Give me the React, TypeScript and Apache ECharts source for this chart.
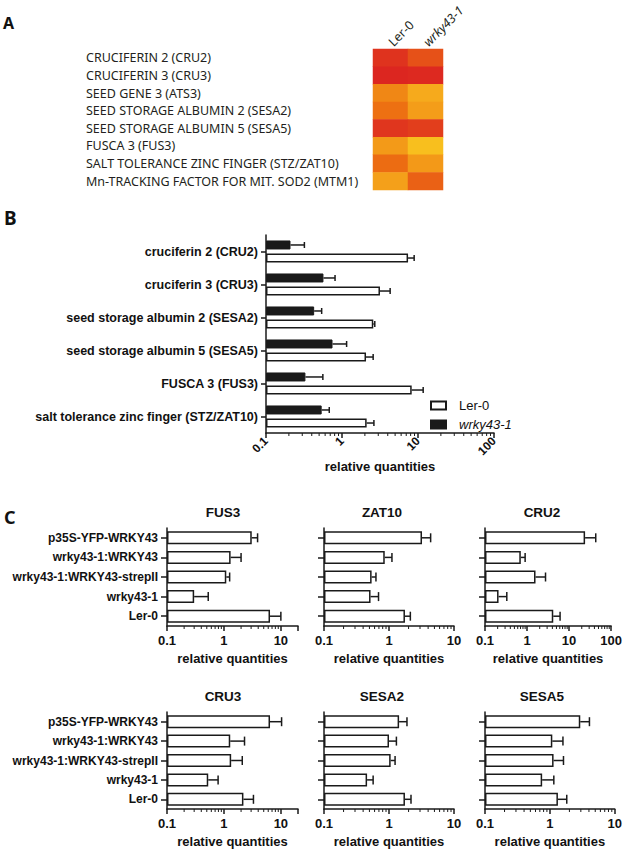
import React, { useEffect, useRef } from 'react';
import * as echarts from 'echarts';

// ---------- Panel A data ----------
const heatGenes = [
  'CRUCIFERIN 2 (CRU2)',
  'CRUCIFERIN 3 (CRU3)',
  'SEED GENE 3 (ATS3)',
  'SEED STORAGE ALBUMIN 2 (SESA2)',
  'SEED STORAGE ALBUMIN 5 (SESA5)',
  'FUSCA 3 (FUS3)',
  'SALT TOLERANCE ZINC FINGER (STZ/ZAT10)',
  'Mn-TRACKING FACTOR FOR MIT. SOD2 (MTM1)',
];
const heatCols = ['Ler-0', 'wrky43-1'];
const heatLer = [0.92, 1.0, 0.45, 0.58, 0.9, 0.32, 0.6, 0.28];
const heatWrky = [0.74, 0.98, 0.2, 0.3, 0.85, 0.06, 0.33, 0.66];

// ---------- Panel B data ----------
const bGenes = [
  'cruciferin 2 (CRU2)',
  'cruciferin 3 (CRU3)',
  'seed storage albumin 2 (SESA2)',
  'seed storage albumin 5 (SESA5)',
  'FUSCA 3 (FUS3)',
  'salt tolerance zinc finger (STZ/ZAT10)',
];
const bLer = [7.4, 3.16, 2.58, 2.07, 8.26, 2.11];
const bLerErr = [8.9, 4.3, 2.7, 2.57, 11.7, 2.63];
const bWrky = [0.21, 0.57, 0.43, 0.75, 0.33, 0.54];
const bWrkyErr = [0.32, 0.81, 0.54, 1.15, 0.56, 0.68];

// ---------- Panel C data ----------
const genotypes = ['p35S-YFP-WRKY43', 'wrky43-1:WRKY43', 'wrky43-1:WRKY43-strepII', 'wrky43-1', 'Ler-0'];
const cTitles = ['FUS3', 'ZAT10', 'CRU2', 'CRU3', 'SESA2', 'SESA5'];
const fus3 = [3.08, 1.31, 1.1, 0.3, 6.45];
const fus3Err = [3.9, 2.0, 1.26, 0.53, 10];
const zat10 = [3.22, 0.86, 0.54, 0.52, 1.76];
const zat10Err = [4.37, 1.11, 0.63, 0.69, 2.13];
const cru2 = [24, 0.71, 1.59, 0.21, 4.2];
const cru2Err = [43, 0.9, 2.75, 0.33, 6.1];
const cru3 = [6.45, 1.29, 1.34, 0.53, 2.2];
const cru3Err = [10.3, 2.3, 2.1, 0.79, 3.3];
const sesa2 = [1.43, 1.0, 1.06, 0.46, 1.76];
const sesa2Err = [1.89, 1.3, 1.24, 0.57, 2.18];
const sesa5 = [2.94, 1.09, 1.14, 0.76, 1.33];
const sesa5Err = [4.07, 1.59, 1.62, 1.15, 1.82];
const cMax = [20, 10, 100, 20, 10, 10];

const minorTickValues = [
  0.2, 0.3, 0.4, 0.5, 0.6, 0.7, 0.8, 0.9,
  2, 3, 4, 5, 6, 7, 8, 9,
  20, 30, 40, 50, 60, 70, 80, 90,
];

const INK = '#1a1a1a';
const ARIAL = '"Liberation Sans", Arial, sans-serif';
const MYRIAD = '"Noto Sans", sans-serif';

function logLabel(v: number) {
  const l = Math.log10(v);
  return Math.abs(l - Math.round(l)) < 1e-6 ? String(parseFloat(v.toPrecision(3))) : '';
}

function buildOption() {
  const grid: any[] = [];
  const xAxis: any[] = [];
  const yAxis: any[] = [];
  const series: any[] = [];
  const graphic: any[] = [];

  // ----- Panel A heatmap -----
  grid.push({ left: 373, top: 49, width: 70, height: 141 });
  xAxis.push({
    type: 'category', gridIndex: 0, position: 'top', data: heatCols,
    axisLine: { show: false }, axisTick: { show: false },
    axisLabel: {
      interval: 0, rotate: -45, margin: 5, align: 'left', verticalAlign: 'middle',
      fontFamily: MYRIAD, fontSize: 12.5, color: '#231f20',
      formatter: (v: string) => (v === 'wrky43-1' ? '{i|' + v + '}' : '{n|' + v + '}'),
      rich: {
        i: { fontStyle: 'italic', fontFamily: MYRIAD, fontSize: 12.5, color: '#231f20' },
        n: { fontFamily: MYRIAD, fontSize: 12.5, color: '#231f20' },
      },
    },
  });
  yAxis.push({
    type: 'category', gridIndex: 0, inverse: true, data: heatGenes,
    axisLine: { show: false }, axisTick: { show: false },
    axisLabel: { interval: 0, align: 'left', margin: 287, fontFamily: MYRIAD, fontSize: 12.5, color: '#231f20' },
  });
  const heatData: any[] = [];
  heatGenes.forEach((_, i) => {
    heatData.push([0, i, heatLer[i]]);
    heatData.push([1, i, heatWrky[i]]);
  });
  series.push({
    type: 'heatmap', name: 'heat', xAxisIndex: 0, yAxisIndex: 0, data: heatData,
  });

  // ----- Panel B -----
  grid.push({ left: 266, top: 235, width: 228, height: 198 });
  xAxis.push({
    type: 'log', logBase: 10, gridIndex: 1, min: 0.1, max: 100, startValue: 0.1,
    axisLine: { show: true, onZero: false, lineStyle: { color: INK, width: 1.5 } },
    axisTick: { show: true, length: 5, lineStyle: { color: INK, width: 1.5 } },
    splitLine: { show: false },
    axisLabel: { formatter: logLabel, rotate: 45, margin: 6, fontSize: 12, fontWeight: 'bold', fontFamily: ARIAL, color: '#111' },
    name: 'relative quantities', nameLocation: 'middle', nameGap: 21,
    nameTextStyle: { fontSize: 13, fontWeight: 'bold', fontFamily: ARIAL, color: '#111', verticalAlign: 'top' },
  });
  yAxis.push({
    type: 'category', gridIndex: 1, inverse: true, data: bGenes,
    axisLine: { show: true, lineStyle: { color: INK, width: 1.5 } },
    axisTick: { show: true, length: 5, alignWithLabel: true, lineStyle: { color: INK, width: 1.5 } },
    axisLabel: { interval: 0, margin: 8, fontSize: 12.5, fontWeight: 'bold', fontFamily: ARIAL, color: '#111' },
  });
  const bBarW = 9;
  series.push({
    type: 'bar', name: 'wrky43-1', xAxisIndex: 1, yAxisIndex: 1, data: bWrky,
    barWidth: bBarW, barGap: '45%',
    itemStyle: { color: INK, borderColor: INK, borderWidth: 1 },
  });
  series.push({
    type: 'bar', name: 'Ler-0', xAxisIndex: 1, yAxisIndex: 1, data: bLer,
    barWidth: bBarW, barGap: '45%',
    itemStyle: { color: '#fff', borderColor: INK, borderWidth: 1.5 },
  });
  const errRender = (offset: number, cap: number) => (params: any, api: any) => {
    const err = api.value(0);
    const cat = api.value(1);
    const val = api.value(2);
    const p0 = api.coord([val, cat]);
    const p1 = api.coord([err, cat]);
    const y = p0[1] + offset;
    return {
      type: 'group',
      children: [
        { type: 'line', shape: { x1: p0[0], y1: y, x2: p1[0], y2: y }, style: { stroke: INK, lineWidth: 1.5 } },
        { type: 'line', shape: { x1: p1[0], y1: y - cap, x2: p1[0], y2: y + cap }, style: { stroke: INK, lineWidth: 1.5 } },
      ],
    };
  };
  const off = (bBarW + bBarW * 0.45) / 2;
  series.push({
    type: 'custom', name: 'errW', xAxisIndex: 1, yAxisIndex: 1,
    data: bWrky.map((v, i) => [bWrkyErr[i], i, v]),
    encode: { x: [0, 2], y: 1 }, renderItem: errRender(-off, 3), z: 1,
  });
  series.push({
    type: 'custom', name: 'errL', xAxisIndex: 1, yAxisIndex: 1,
    data: bLer.map((v, i) => [bLerErr[i], i, v]),
    encode: { x: [0, 2], y: 1 }, renderItem: errRender(off, 3), z: 1,
  });
  const minorRender = (params: any, api: any) => {
    const cs = params.coordSys;
    const x = api.coord([api.value(0), 0])[0];
    const y = cs.y + cs.height;
    return { type: 'line', shape: { x1: x, y1: y, x2: x, y2: y + 3 }, style: { stroke: INK, lineWidth: 1 } };
  };
  series.push({
    type: 'custom', name: 'minorB', xAxisIndex: 1, yAxisIndex: 1,
    data: minorTickValues.filter((v) => v < 100).map((v) => [v, 0]),
    encode: { x: 0, y: 1 }, renderItem: minorRender, silent: true,
  });

  // ----- Panel C -----
  const cVals = [fus3, zat10, cru2, cru3, sesa2, sesa5];
  const cErrs = [fus3Err, zat10Err, cru2Err, cru3Err, sesa2Err, sesa5Err];
  const cLefts = [167, 324, 485];
  const cWidths = [131, 130, 130];
  const cTops = [528, 712];
  const titleX = [223, 382, 542];
  const titleY = [512, 696];
  cTitles.forEach((title, k) => {
    const row = Math.floor(k / 3);
    const col = k % 3;
    const gi = grid.length;
    grid.push({ left: cLefts[col], top: cTops[row], width: cWidths[col], height: 98 });
    xAxis.push({
      type: 'log', logBase: 10, gridIndex: gi, min: 0.1, max: cMax[k], startValue: 0.1,
      axisLine: { show: true, onZero: false, lineStyle: { color: INK, width: 1.5 } },
      axisTick: { show: true, length: 5, lineStyle: { color: INK, width: 1.5 } },
      splitLine: { show: false },
      axisLabel: { formatter: logLabel, margin: 8, fontSize: 13, fontWeight: 'bold', fontFamily: ARIAL, color: '#111' },
      name: 'relative quantities', nameLocation: 'middle', nameGap: 26,
      nameTextStyle: { fontSize: 13, fontWeight: 'bold', fontFamily: ARIAL, color: '#111', verticalAlign: 'top' },
    });
    yAxis.push({
      type: 'category', gridIndex: gi, inverse: true, data: genotypes,
      axisLine: { show: true, lineStyle: { color: INK, width: 1.5 } },
      axisTick: { show: true, length: 6, alignWithLabel: true, lineStyle: { color: INK, width: 1.5 } },
      axisLabel: {
        show: col === 0, interval: 0, margin: 9, fontSize: 12, fontWeight: 'bold', fontFamily: ARIAL, color: '#111',
      },
    });
    series.push({
      type: 'bar', name: 'c' + k, xAxisIndex: gi, yAxisIndex: gi, data: cVals[k], barWidth: 13,
      itemStyle: { color: '#fff', borderColor: INK, borderWidth: 1.5 },
    });
    series.push({
      type: 'custom', name: 'ce' + k, xAxisIndex: gi, yAxisIndex: gi,
      data: cVals[k].map((v, i) => [cErrs[k][i], i, v]),
      encode: { x: [0, 2], y: 1 }, renderItem: errRender(0, 4.5),
    });
    series.push({
      type: 'custom', name: 'cm' + k, xAxisIndex: gi, yAxisIndex: gi,
      data: minorTickValues.filter((v) => v < cMax[k]).map((v) => [v, 0]),
      encode: { x: 0, y: 1 }, renderItem: minorRender, silent: true,
    });
    graphic.push({
      type: 'text', x: titleX[col], y: titleY[row],
      style: { text: title, align: 'center', verticalAlign: 'middle', font: 'bold 13.5px ' + ARIAL, fill: '#111' },
    });
  });

  // panel letters
  graphic.push({ type: 'text', x: 3, y: 23, style: { text: 'A', verticalAlign: 'middle', font: 'bold 16px ' + MYRIAD, fill: '#111' } });
  graphic.push({ type: 'text', x: 4, y: 218, style: { text: 'B', verticalAlign: 'middle', font: 'bold 19px ' + MYRIAD, fill: '#111' } });
  graphic.push({ type: 'text', x: 4, y: 517, style: { text: 'C', verticalAlign: 'middle', font: 'bold 18px ' + MYRIAD, fill: '#111' } });

  return {
    animation: false,
    backgroundColor: '#fff',
    grid, xAxis, yAxis, series, graphic,
    visualMap: {
      show: false, type: 'continuous', min: 0, max: 1, seriesIndex: 0, dimension: 2,
      inRange: { color: ['#f9c81f', '#f6aa1c', '#f19016', '#ec6c12', '#e4461b', '#dc2620'] },
    },
    legend: {
      orient: 'vertical', left: 430, top: 399, padding: 0, itemWidth: 15, itemHeight: 8, itemGap: 6,
      data: ['Ler-0', 'wrky43-1'], icon: 'rect',
      formatter: (n: string) => (n === 'wrky43-1' ? '{i|wrky43-1}' : '{n|' + n + '}'),
      textStyle: {
        fontSize: 13, fontFamily: ARIAL, color: '#111',
        rich: {
          i: { fontStyle: 'italic', fontSize: 13, fontFamily: ARIAL, color: '#111', padding: [0, 0, 0, 8] },
          n: { fontSize: 13, fontFamily: ARIAL, color: '#111', padding: [0, 0, 0, 8] },
        },
      },
    },
  };
}

export default function App() {
  const ref = useRef<HTMLDivElement>(null);
  useEffect(() => {
    if (!ref.current) return;
    const chart = echarts.init(ref.current, null, { renderer: 'svg' });
    chart.setOption(buildOption() as any);
    return () => chart.dispose();
  }, []);
  return <div ref={ref} style={{ position: 'absolute', left: 0, top: 0, width: 625, height: 849 }} />;
}
